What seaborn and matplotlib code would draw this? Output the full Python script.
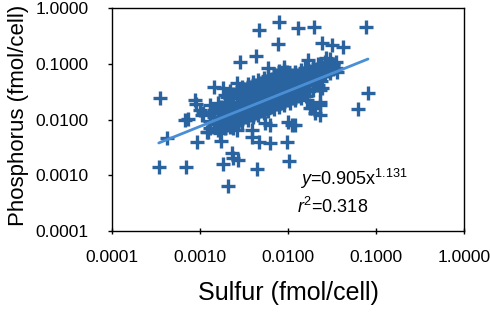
import numpy as np
import pandas as pd
import seaborn as sns
import matplotlib.pyplot as plt
from matplotlib.ticker import FixedLocator, FuncFormatter, NullLocator

# scattered cells (outside the dense core)
out_sulfur = [0.00468, 0.00791, 0.0130, 0.0197, 0.0769, 0.00769, 0.0243, 0.0316, 0.0422,
              0.00285, 0.00433, 0.00593, 0.00901, 0.0169, 0.0271, 0.0324, 0.0192, 0.0361,
              0.00144, 0.00182, 0.00263, 0.000351, 0.000877, 0.0811, 0.0243, 0.00624, 0.0114,
              0.000901, 0.000676, 0.000731, 0.00108, 0.00137, 0.000422, 0.000925, 0.00120,
              0.00173, 0.00231, 0.00237, 0.00270, 0.000342, 0.000693, 0.00182, 0.00445,
              0.0103, 0.00208, 0.00390, 0.00468, 0.00624, 0.00975, 0.0120, 0.0100, 0.00263,
              0.0188, 0.0231, 0.0231, 0.0624, 0.0164, 0.00548, 0.00351, 0.00750, 0.0120,
              0.0156, 0.0231, 0.0231, 0.0203, 0.0178, 0.0111, 0.00624, 0.00390, 0.00237,
              0.00169, 0.00123, 0.00100, 0.00105]
out_phos = [0.403, 0.561, 0.438, 0.456, 0.456, 0.226, 0.236, 0.217, 0.200,
            0.107, 0.138, 0.0839, 0.0875, 0.117, 0.127, 0.095, 0.0711, 0.0711,
            0.0383, 0.0367, 0.0452, 0.0243, 0.0224, 0.0299, 0.0367, 0.0511, 0.0628,
            0.0190, 0.00980, 0.0102, 0.0131, 0.0136, 0.00466, 0.00395, 0.00597,
            0.00411, 0.00251, 0.00204, 0.00188, 0.00141, 0.00141, 0.00159, 0.00129,
            0.00180, 0.000641, 0.00485, 0.00395, 0.00379, 0.00395, 0.00797, 0.00902, 0.00648,
            0.0161, 0.0182, 0.0120, 0.0154, 0.0224, 0.00865, 0.0383, 0.0628, 0.0711,
            0.0839, 0.0338, 0.0206, 0.0131, 0.0161, 0.00797, 0.00797, 0.00648, 0.00704,
            0.00573, 0.00597, 0.0148, 0.0120]

# dense core: sulfur value -> phosphorus values stacked at it
core = {
    0.0013: [0.0072, 0.0095, 0.013, 0.018],
    0.0016: [0.0065, 0.0085, 0.011, 0.015, 0.020],
    0.0019: [0.0070, 0.0092, 0.012, 0.016, 0.021, 0.028],
    0.0022: [0.0075, 0.0099, 0.013, 0.017, 0.024, 0.032],
    0.0026: [0.0083, 0.011, 0.0145, 0.019, 0.026, 0.036],
    0.0030: [0.0091, 0.012, 0.016, 0.021, 0.029, 0.039],
    0.0035: [0.010, 0.013, 0.017, 0.023, 0.032, 0.043],
    0.0040: [0.011, 0.0145, 0.019, 0.025, 0.034, 0.047],
    0.0046: [0.012, 0.016, 0.021, 0.028, 0.038, 0.051],
    0.0053: [0.013, 0.017, 0.023, 0.030, 0.041, 0.056],
    0.0060: [0.014, 0.019, 0.025, 0.033, 0.044, 0.061],
    0.0070: [0.0155, 0.021, 0.027, 0.036, 0.049, 0.067],
    0.0080: [0.017, 0.022, 0.030, 0.039, 0.053, 0.073],
    0.0090: [0.018, 0.024, 0.032, 0.042, 0.057, 0.078],
    0.0105: [0.020, 0.027, 0.035, 0.047, 0.063],
    0.0120: [0.022, 0.029, 0.038, 0.051, 0.069],
    0.0140: [0.024, 0.032, 0.042, 0.056, 0.076],
    0.0160: [0.026, 0.035, 0.046, 0.061, 0.083],
    0.0190: [0.034, 0.051, 0.068, 0.092],
    0.0220: [0.042, 0.056, 0.075, 0.10],
    0.0260: [0.062, 0.083, 0.11],
    0.0300: [0.068, 0.09, 0.12],
    0.0350: [0.085, 0.11],
}

# more core cells sitting between the columns above
core_mid = {
    0.00145: [0.0083, 0.011, 0.015],
    0.00175: [0.0074, 0.0098, 0.013, 0.017],
    0.0020: [0.0080, 0.011, 0.014, 0.019, 0.025],
    0.0024: [0.0090, 0.012, 0.016, 0.021, 0.029],
    0.0028: [0.010, 0.013, 0.0175, 0.024, 0.032],
    0.00325: [0.011, 0.0145, 0.019, 0.026, 0.035],
    0.0037: [0.012, 0.016, 0.021, 0.028, 0.038],
    0.0043: [0.013, 0.0175, 0.023, 0.031, 0.042],
    0.0049: [0.014, 0.019, 0.025, 0.034, 0.046],
    0.0056: [0.0155, 0.021, 0.027, 0.037, 0.050],
    0.0065: [0.017, 0.023, 0.030, 0.040, 0.054],
    0.0075: [0.019, 0.025, 0.033, 0.044, 0.059],
    0.0085: [0.020, 0.027, 0.035, 0.047, 0.064],
    0.0097: [0.022, 0.029, 0.039, 0.052, 0.070],
    0.0112: [0.024, 0.032, 0.042, 0.057],
    0.013: [0.026, 0.035, 0.046, 0.062],
    0.015: [0.029, 0.039, 0.051, 0.068],
    0.0175: [0.032, 0.042, 0.056, 0.075],
    0.0205: [0.044, 0.060, 0.082],
    0.024: [0.050, 0.068, 0.09],
    0.028: [0.075, 0.10],
    0.0325: [0.08, 0.10],
}

# trend line as drawn (end points)
fit_sulfur = [0.00034, 0.081]
fit_phos = [0.0038, 0.122]

tick_vals = [0.0001, 0.001, 0.01, 0.1, 1.0]

core_s = [s for c in (core, core_mid) for s, ps in c.items() for _ in ps]
core_p = [p for c in (core, core_mid) for ps in c.values() for p in ps]
df = pd.DataFrame({"sulfur": out_sulfur + core_s, "phos": out_phos + core_p})

sns.set_style("ticks")
plt.rcParams["font.family"] = ["Liberation Sans", "DejaVu Sans"]
plt.rcParams["mathtext.fontset"] = "custom"
plt.rcParams["mathtext.rm"] = "Liberation Sans"
plt.rcParams["mathtext.it"] = "Liberation Sans:italic"
for key in ("text.color", "axes.labelcolor", "xtick.color", "ytick.color"):
    plt.rcParams[key] = "black"

fig, ax = plt.subplots(figsize=(4.9, 3.12), dpi=100)
fig.subplots_adjust(left=0.2286, right=0.947, bottom=0.2596, top=0.974)

sns.scatterplot(data=df, x="sulfur", y="phos", marker="+", s=95,
                color="#2a64a0", linewidth=2.4, ax=ax, zorder=2)
sns.lineplot(x=fit_sulfur, y=fit_phos, color="#4a8fd6", linewidth=2, ax=ax, zorder=3)

ax.set_xscale("log")
ax.set_yscale("log")
ax.set_xlim(1e-4, 1)
ax.set_ylim(1e-4, 1)
fmt = FuncFormatter(lambda v, _: f"{v:.4f}")
for axis in (ax.xaxis, ax.yaxis):
    axis.set_major_locator(FixedLocator(tick_vals))
    axis.set_minor_locator(NullLocator())
    axis.set_major_formatter(fmt)

ax.tick_params(axis="x", direction="inout", length=5, width=1, pad=11, labelsize=12.5)
ax.tick_params(axis="y", direction="out", length=3, width=1, pad=14, labelsize=12.5)
for sp in ax.spines.values():
    sp.set_linewidth(1)
    sp.set_color("black")

ax.set_xlabel("Sulfur (fmol/cell)", fontsize=18, labelpad=12)
ax.set_ylabel("Phosphorus (fmol/cell)", fontsize=16)
ax.yaxis.set_label_coords(-0.235, 0.52)

ax.text(0.534, 0.205, r"$\it{y}$=0.905x$^{1.131}$", transform=ax.transAxes, fontsize=13)
ax.text(0.526, 0.08, r"$\it{r}^2$=0.318", transform=ax.transAxes, fontsize=13)

fig.savefig("out.png", dpi=100)
